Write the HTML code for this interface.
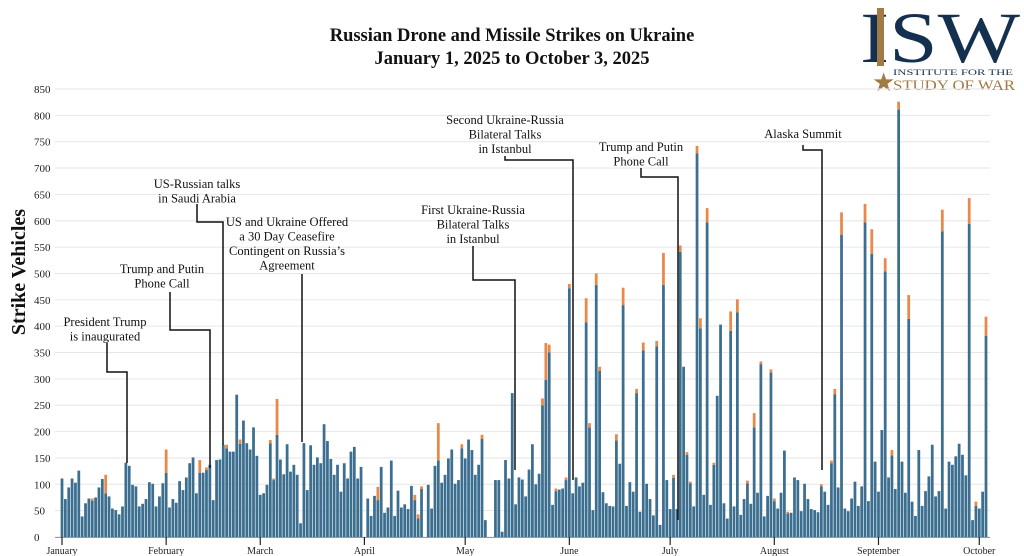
<!DOCTYPE html>
<html><head><meta charset="utf-8"><style>
body{margin:0;background:#fff;}
svg{display:block;font-family:"Liberation Serif",serif;}
</style></head><body>
<svg id="chart" width="1024" height="556" viewBox="0 0 1024 556" xmlns="http://www.w3.org/2000/svg">
<text x="512" y="41" text-anchor="middle" font-size="18.5" font-weight="bold" fill="#111">Russian Drone and Missile Strikes on Ukraine</text>
<text x="512" y="64" text-anchor="middle" font-size="18.5" font-weight="bold" fill="#111">January 1, 2025 to October 3, 2025</text>
<g>
<text x="860" y="62" font-size="72" fill="#15304f" textLength="160" lengthAdjust="spacingAndGlyphs">ISW</text>
<rect x="877" y="8" width="7" height="58" fill="#a27a45"/>
<text x="872" y="91" font-size="26" fill="#a27a45">★</text>
<text x="893" y="75" font-size="8" fill="#15304f" textLength="120" lengthAdjust="spacingAndGlyphs">INSTITUTE FOR THE</text>
<text x="893" y="90" font-size="15" fill="#a27a45" textLength="122" lengthAdjust="spacingAndGlyphs">STUDY OF WAR</text>
</g>
<text transform="translate(25,272) rotate(-90)" text-anchor="middle" font-size="20" font-weight="bold" fill="#111">Strike Vehicles</text>
<g id="grid"></g><g id="bars"></g><g id="axis"></g><g id="notes"></g>
</svg>
<script>
const yTicks=[0,50,100,150,200,250,300,350,400,450,500,550,600,650,700,750,800,850];
const monthLabels=["January","February","March","April","May","June","July","August","September","October"];
const monthStartDays=[0,31,59,90,120,151,181,212,243,273];
const totals=[
111,72,94,111,103,126,39,64,73,73,75,94,110,118,77,54,51,43,58,141,135,99,96,58,63,72,104,101,58,77,102,166,56,72,65,106,89,113,140,151,83,146,122,132,137,70,146,147,175,
175,162,162,270,185,221,178,166,208,154,80,83,99,184,111,262,147,119,176,124,137,118,26,178,89,174,137,151,140,214,182,148,118,137,86,140,111,162,171,111,133,0,73,40,78,95,133,
46,56,145,40,88,56,62,53,97,80,43,96,0,99,54,135,216,103,118,149,166,101,108,176,149,185,165,118,137,194,32,0,0,108,108,10,146,111,273,62,113,109,77,128,176,100,120,263,
368,365,61,92,90,92,113,480,83,113,96,103,453,216,51,500,323,85,64,59,58,195,139,473,59,104,86,281,48,369,101,72,41,372,23,539,108,53,118,53,553,323,161,
105,58,742,415,80,624,61,141,268,403,64,35,428,58,451,42,72,107,63,235,84,333,39,78,318,73,54,84,164,48,46,113,108,49,101,72,53,51,47,100,86,61,145,
281,94,616,54,49,73,105,59,96,632,68,584,143,86,203,529,113,165,91,826,143,84,459,67,40,165,59,87,115,175,77,87,621,54,143,137,153,177,156,117,643,32,67,54,86,418];
const missileDays=[9,13,31,41,43,49,53,62,63,64,94,105,106,107,112,119,125,143,
144,145,147,150,151,156,157,159,160,165,167,171,173,177,179,182,184,186,
187,189,190,192,194,199,201,204,206,208,211,212,216,226,229,
230,232,239,241,245,247,249,252,262,270,272,275];
const missileVals=[4,35,44,24,5,7,8,6,3,68,25,10,8,5,71,8,8,13,
70,15,5,5,8,46,8,22,8,12,33,8,15,10,61,6,12,5,
3,14,19,27,4,37,25,5,27,5,6,5,3,4,5,
10,43,35,47,25,10,15,45,41,49,8,36];

const NS="http://www.w3.org/2000/svg";
const X0=62,DW=3.36,Y0=537,YTOP=89,YMAX=850;
const xScale=i=>X0+i*DW;
const yScale=v=>Y0-(v/YMAX)*(Y0-YTOP);
function mk(tag,attrs,parent){const e=document.createElementNS(NS,tag);for(const k in attrs)e.setAttribute(k,attrs[k]);parent.appendChild(e);return e;}
const grid=document.getElementById('grid'),bars=document.getElementById('bars'),axis=document.getElementById('axis'),notes=document.getElementById('notes');
yTicks.forEach(t=>{
  const l=mk('line',{x1:55,x2:990,y1:yScale(t),y2:yScale(t),stroke:'#e6e6e6','stroke-width':1},grid);
  
  
  const tx=mk('text',{x:34,y:yScale(t)+4,'font-size':11,fill:'#222'},axis);
  tx.textContent=t;
  
  
});
const missMap={};missileDays.forEach((d,i)=>missMap[d]=missileVals[i]);
totals.forEach((v,i)=>{
  const m=missMap[i]||0, blue=Math.max(0,v-m), x=xScale(i)-DW/2+0.3, w=DW-0.6;
  const b=mk('rect',{x:x,y:yScale(blue),width:w,height:Y0-yScale(blue),fill:'#3b6e8f'},bars);
  
  
  if(m>0){
    const o=mk('rect',{x:x,y:yScale(v),width:w,height:yScale(blue)-yScale(v),fill:'#e8894a'},bars);
    
    
  }
});
const ax=mk('line',{x1:55,x2:990,y1:Y0+0.5,y2:Y0+0.5,stroke:'#999','stroke-width':1},axis);


monthLabels.forEach((m,i)=>{
  const x=xScale(monthStartDays[i]);
  const tk=mk('line',{x1:x,x2:x,y1:Y0,y2:Y0+8,stroke:'#222','stroke-width':1.2},axis);
  
  
  const t=mk('text',{x:x,y:Y0+17,'text-anchor':'middle','font-size':10,fill:'#222'},axis);
  t.textContent=m;
  
  
});
const annots=[
 {name:'annotation-inauguration',lines:['President Trump','is inaugurated'],cx:105,ty:326,path:'M107,343 L107,372 L127,372 L127,463'},
 {name:'annotation-phone-call-feb',lines:['Trump and Putin','Phone Call'],cx:162,ty:273,path:'M170,292 L170,330 L210,330 L210,468'},
 {name:'annotation-saudi-talks',lines:['US-Russian talks','in Saudi Arabia'],cx:197,ty:188,path:'M197,204 L197,222 L223,222 L223,445'},
 {name:'annotation-ceasefire',lines:['US and Ukraine Offered','a 30 Day Ceasefire','Contingent on Russia\u2019s','Agreement'],cx:287,ty:226,path:'M302,274 L302,442'},
 {name:'annotation-istanbul-1',lines:['First Ukraine-Russia','Bilateral Talks','in Istanbul'],cx:473,ty:214,path:'M473,246 L473,280 L515,280 L515,470'},
 {name:'annotation-istanbul-2',lines:['Second Ukraine-Russia','Bilateral Talks','in Istanbul'],cx:505,ty:124,path:'M505,156 L505,160 L573,160 L573,480'},
 {name:'annotation-phone-call-jul',lines:['Trump and Putin','Phone Call'],cx:641,ty:151,path:'M641,168 L641,177 L678,177 L678,520'},
 {name:'annotation-alaska',lines:['Alaska Summit'],cx:803,ty:138,path:'M803,145 L803,150 L822,150 L822,470'}
];
annots.forEach(a=>{
  const g=mk('g',{},notes);
  
  
  mk('path',{d:a.path,fill:'none',stroke:'#111','stroke-width':1.5},g);
  a.lines.forEach((s,j)=>{const t=mk('text',{x:a.cx,y:a.ty+j*14.5,'text-anchor':'middle','font-size':12.5,fill:'#111'},g);t.textContent=s;});
});
</script>
</body></html>
